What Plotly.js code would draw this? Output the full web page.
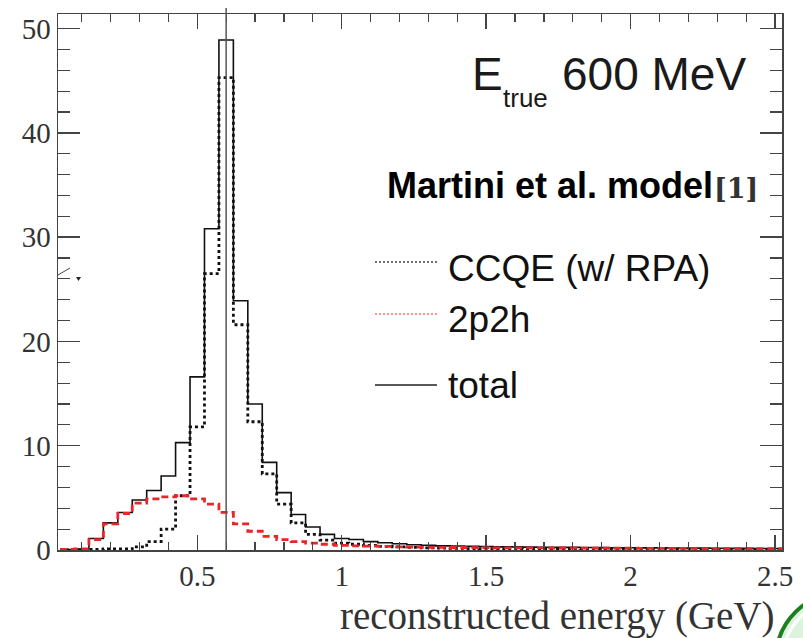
<!DOCTYPE html>
<html>
<head>
<meta charset="utf-8">
<script src="https://cdn.plot.ly/plotly-3.0.1.min.js"></script>
<style>
  html, body { margin: 0; padding: 0; background: #ffffff; }
  #chart { width: 803px; height: 638px; }
</style>
</head>
<body>
<div id="chart"></div>
<script>
// Reconstructed-energy spectra for a 600 MeV true neutrino energy (Martini et al. model).
const BIN_WIDTH = 0.05;   // GeV
const E_TRUE = 0.6;       // GeV

const binEnergy = [
  0.05, 0.10, 0.15, 0.20, 0.25, 0.30, 0.35, 0.40, 0.45, 0.50,
  0.55, 0.60, 0.65, 0.70, 0.75, 0.80, 0.85, 0.90, 0.95, 1.00,
  1.05, 1.10, 1.15, 1.20, 1.25, 1.30, 1.35, 1.40, 1.45, 1.50,
  1.55, 1.60, 1.65, 1.70, 1.75, 1.80, 1.85, 1.90, 1.95, 2.00,
  2.05, 2.10, 2.15, 2.20, 2.25, 2.30, 2.35, 2.40, 2.45, 2.50
];

const totalEvents = [
  0.05, 0.1, 1.1, 2.6, 3.6, 4.8, 5.7, 7.1, 10.3, 16.6,
  30.8, 48.9, 23.9, 14.0, 8.4, 5.5, 3.4, 2.2, 1.5, 1.1,
  1.0, 0.8, 0.7, 0.6, 0.5, 0.45, 0.4, 0.38, 0.35, 0.33,
  0.3, 0.3, 0.28, 0.27, 0.25, 0.25, 0.24, 0.23, 0.22, 0.22,
  0.2, 0.2, 0.19, 0.18, 0.18, 0.17, 0.16, 0.16, 0.15, 0.15
];

const ccqeEvents = [
  0, 0, 0.05, 0.1, 0.1, 0.3, 0.8, 2.0, 5.2, 11.8,
  26.5, 45.3, 21.6, 12.3, 7.3, 4.4, 2.6, 1.5, 0.95, 0.65,
  0.55, 0.45, 0.35, 0.3, 0.25, 0.2, 0.18, 0.15, 0.13, 0.12,
  0.1, 0.09, 0.08, 0.08, 0.07, 0.07, 0.06, 0.06, 0.06, 0.05,
  0.05, 0.05, 0.05, 0.04, 0.04, 0.04, 0.04, 0.03, 0.03, 0.03
];

const np2hEvents = [
  0.05, 0.1, 1.0, 2.5, 3.5, 4.5, 4.9, 5.1, 5.2, 4.9,
  4.4, 3.6, 2.5, 1.8, 1.3, 1.0, 0.8, 0.65, 0.55, 0.45,
  0.4, 0.38, 0.35, 0.3, 0.28, 0.26, 0.25, 0.24, 0.23, 0.22,
  0.21, 0.21, 0.2, 0.2, 0.19, 0.19, 0.18, 0.18, 0.17, 0.17,
  0.16, 0.16, 0.15, 0.15, 0.14, 0.14, 0.13, 0.13, 0.12, 0.12
];

const legendLabels = ['CCQE (w/ RPA)', '2p2h', 'total'];

// Histogram outline: low bin edges plus the final high edge, drawn as horizontal-then-vertical steps.
function histStep(values) {
  const x = binEnergy.map(e => e - BIN_WIDTH / 2);
  x.push(binEnergy[binEnergy.length - 1] + BIN_WIDTH / 2);
  const y = values.slice();
  y.push(values[values.length - 1]);
  return { x, y };
}

const M = { l: 58, r: 21, t: 14, b: 88 };
const W = 803, H = 638;
const PW = W - M.l - M.r, PH = H - M.t - M.b;
const px = v => (v - M.l) / PW;          // page pixel -> paper x
const py = v => (H - M.b - v) / PH;      // page pixel -> paper y

const tot = histStep(totalEvents);
const qe = histStep(ccqeEvents);
const mp = histStep(np2hEvents);

const traces = [
  { x: tot.x, y: tot.y, type: 'scatter', mode: 'lines', name: 'total',
    line: { shape: 'hv', color: '#111111', width: 1.6 }, hoverinfo: 'skip' },
  { x: qe.x, y: qe.y, type: 'scatter', mode: 'lines', name: 'CCQE (w/ RPA)',
    line: { shape: 'hv', color: '#111111', width: 2.8, dash: '3px,3px' }, hoverinfo: 'skip' },
  { x: mp.x, y: mp.y, type: 'scatter', mode: 'lines', name: '2p2h',
    line: { shape: 'hv', color: '#e8262a', width: 2.8, dash: '7px,4px' }, hoverinfo: 'skip' }
];

const axisCommon = {
  showgrid: false, zeroline: false, showline: true,
  linecolor: '#444444', linewidth: 1.5,
  mirror: 'allticks', ticks: 'inside', tickcolor: '#444444', tickwidth: 1.5,
  tickfont: { family: 'Liberation Serif, serif', size: 29, color: '#333333' }
};

const layout = {
  width: W, height: H,
  margin: M,
  paper_bgcolor: '#ffffff', plot_bgcolor: '#ffffff',
  showlegend: false,
  xaxis: Object.assign({}, axisCommon, {
    range: [0.018, 2.524], tick0: 0, dtick: 0.5, ticklen: 15,
    minor: { dtick: 0.1, ticklen: 8, ticks: 'inside', tickcolor: '#444444', tickwidth: 1.2 }
  }),
  yaxis: Object.assign({}, axisCommon, {
    range: [0, 51.4], tick0: 0, dtick: 10, ticklen: 22,
    minor: { dtick: 2, ticklen: 12, ticks: 'inside', tickcolor: '#444444', tickwidth: 1.2 }
  }),
  shapes: [
    // true-energy marker line
    { type: 'line', xref: 'x', yref: 'paper', x0: E_TRUE, x1: E_TRUE, y0: 0, y1: 1.011,
      line: { color: '#555555', width: 1.5 } },
    // legend line samples
    { type: 'line', xref: 'paper', yref: 'paper', x0: px(375), x1: px(437), y0: py(262), y1: py(262),
      line: { color: '#444444', width: 1.3, dash: '2px,2px' } },
    { type: 'line', xref: 'paper', yref: 'paper', x0: px(375), x1: px(437), y0: py(314), y1: py(314),
      line: { color: '#ee7777', width: 1.3, dash: '2px,2px' } },
    { type: 'line', xref: 'paper', yref: 'paper', x0: px(375), x1: px(437), y0: py(385), y1: py(385),
      line: { color: '#222222', width: 1.6 } },
    // small marks at the left edge
    { type: 'line', xref: 'paper', yref: 'paper', x0: px(58), x1: px(70), y0: py(275), y1: py(268),
      line: { color: '#444444', width: 1 } },
    { type: 'path', xref: 'paper', yref: 'paper',
      path: 'M ' + px(76) + ' ' + py(277) + ' L ' + px(81) + ' ' + py(277) + ' L ' + px(78.5) + ' ' + py(281) + ' Z',
      fillcolor: '#222222', line: { width: 0 } },
    // green badge edge in the lower-right corner
    { type: 'circle', xref: 'paper', yref: 'paper', x0: px(776), x1: px(912), y0: py(726), y1: py(592),
      fillcolor: 'rgba(200,235,200,0.6)', line: { color: '#1f7f1f', width: 4 } },
    { type: 'circle', xref: 'paper', yref: 'paper', x0: px(783), x1: px(905), y0: py(719), y1: py(599),
      fillcolor: 'rgba(255,255,255,0)', line: { color: '#ffffff', width: 3 } }
  ],
  annotations: [
    { text: 'E', xref: 'paper', yref: 'paper', x: px(470), y: py(74), xanchor: 'left', yanchor: 'middle',
      showarrow: false, font: { family: 'Liberation Sans, Arial, sans-serif', size: 46, color: '#1a1a1a' } },
    { text: 'true', xref: 'paper', yref: 'paper', x: px(501), y: py(98), xanchor: 'left', yanchor: 'middle',
      showarrow: false, font: { family: 'Liberation Sans, Arial, sans-serif', size: 26, color: '#1a1a1a' } },
    { text: '600 MeV', xref: 'paper', yref: 'paper', x: px(560), y: py(74), xanchor: 'left', yanchor: 'middle',
      showarrow: false, font: { family: 'Liberation Sans, Arial, sans-serif', size: 46, color: '#1a1a1a' } },
    { text: '<b>Martini et al. model</b>', xref: 'paper', yref: 'paper', x: px(385), y: py(185), xanchor: 'left', yanchor: 'middle',
      showarrow: false, font: { family: 'Liberation Sans, Arial, sans-serif', size: 36, color: '#000000' } },
    { text: '<b>[1]</b>', xref: 'paper', yref: 'paper', x: px(712), y: py(188), xanchor: 'left', yanchor: 'middle',
      showarrow: false, font: { family: 'DejaVu Serif, serif', size: 27, color: '#333333' } },
    { text: legendLabels[0], xref: 'paper', yref: 'paper', x: px(446), y: py(268), xanchor: 'left', yanchor: 'middle',
      showarrow: false, font: { family: 'Liberation Sans, Arial, sans-serif', size: 37, color: '#111111' } },
    { text: legendLabels[1], xref: 'paper', yref: 'paper', x: px(446), y: py(320), xanchor: 'left', yanchor: 'middle',
      showarrow: false, font: { family: 'Liberation Sans, Arial, sans-serif', size: 37, color: '#111111' } },
    { text: legendLabels[2], xref: 'paper', yref: 'paper', x: px(446), y: py(385), xanchor: 'left', yanchor: 'middle',
      showarrow: false, font: { family: 'Liberation Sans, Arial, sans-serif', size: 37, color: '#111111' } },
    { text: 'reconstructed energy (GeV)', xref: 'paper', yref: 'paper', x: px(777), y: py(616), xanchor: 'right', yanchor: 'middle',
      showarrow: false, font: { family: 'Liberation Serif, serif', size: 39, color: '#333333' } }
  ]
};

Plotly.newPlot('chart', traces, layout, { staticPlot: true, displayModeBar: false });
</script>
</body>
</html>
